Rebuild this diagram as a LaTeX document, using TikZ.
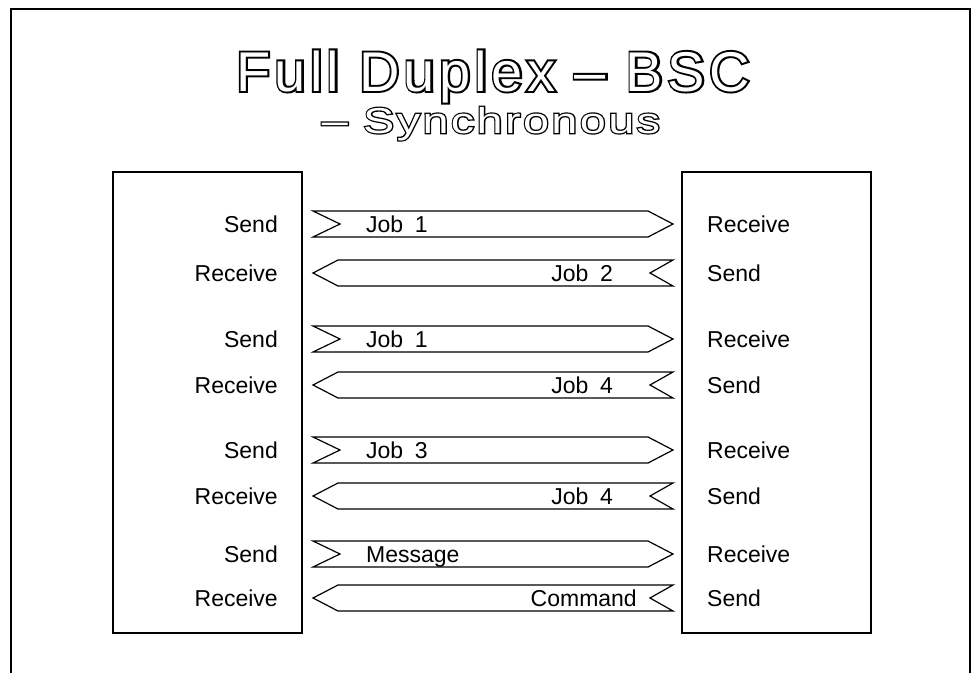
\documentclass[tikz,border=0pt]{standalone}
\usepackage{fontspec}
\setmainfont{Liberation Sans}
\newfontfamily\titlefont[LetterSpace=7.7]{Liberation Sans}
\newfontfamily\titlerim[LetterSpace=7.7,FakeBold=7]{Liberation Sans}
\newfontfamily\subtitlefont[FakeStretch=1.3,LetterSpace=6.6]{Liberation Sans}
\newfontfamily\subtitlerim[FakeStretch=1.3,LetterSpace=6.6,FakeBold=7]{Liberation Sans}
\newfontfamily\jobfont[WordSpace=1.8]{Liberation Sans}
\usetikzlibrary{positioning}

\begin{document}
\begin{tikzpicture}[x=1pt, y=-1pt,
    station/.style={draw, line width=1.2pt, minimum width=189pt, minimum height=461pt, inner sep=0pt},
    side/.style={font=\fontsize{23}{23}\selectfont, inner sep=0pt},
    job/.style={font=\jobfont\fontsize{23}{23}\selectfont, inner sep=0pt},
    banner/.style={draw, line width=1.2pt},
    heading/.style={inner sep=0pt, anchor=base},
  ]
  \useasboundingbox (0,0) rectangle (972,673);
  % Outer frame
  \draw[line width=2pt] (11,673) -- (11,9) -- (970,9) -- (970,673);
  % Title: a bold black rim with the white letters set over it
  \node[heading, font=\titlerim\fontsize{56}{56}\selectfont] (title) at (493,91)
    {Full Duplex – BSC};
  \node[heading, text=white, font=\titlefont\fontsize{56}{56}\selectfont] at (title.base)
    {Full Duplex – BSC};
  \node[heading, font=\subtitlerim\fontsize{36}{36}\selectfont] (subtitle) at (491,133)
    {– Synchronous};
  \node[heading, text=white, font=\subtitlefont\fontsize{36}{36}\selectfont] at (subtitle.base)
    {– Synchronous};
  % Stations
  \node[station] (left) at (207.5,402.5) {};
  \node[station] (right) at (776.5,402.5) {};
  % Rows
  \foreach \s/\r/\sj/\rj/\rx [count=\i] in {224/273/Job 1/Job 2/613,
      339/385/Job 1/Job 4/613, 450/496/Job 3/Job 4/613, 554/598/Message/Command/637} {
    \node[side, anchor=base east] (ls-\i) at (278,\s+8) {Send};
    \node[side, anchor=base east] (lr-\i) at (278,\r+8) {Receive};
    \node[side, anchor=base west] (rr-\i) at (707,\s+8) {Receive};
    \node[side, anchor=base west] (rs-\i) at (707,\r+8) {Send};
    \draw[banner] (313,\s-13) -- (648,\s-13) -- (673,\s) -- (648,\s+13)
      -- (313,\s+13) -- (340,\s) -- cycle;
    \draw[banner] (313,\r) -- (338,\r-13) -- (673,\r-13) -- (650,\r)
      -- (673,\r+13) -- (338,\r+13) -- cycle;
    \node[job, anchor=base west] (sj-\i) at (366,\s+8) {\sj};
    \node[job, anchor=base east] (rj-\i) at (\rx,\r+8) {\rj};
  }
\end{tikzpicture}
\end{document}
